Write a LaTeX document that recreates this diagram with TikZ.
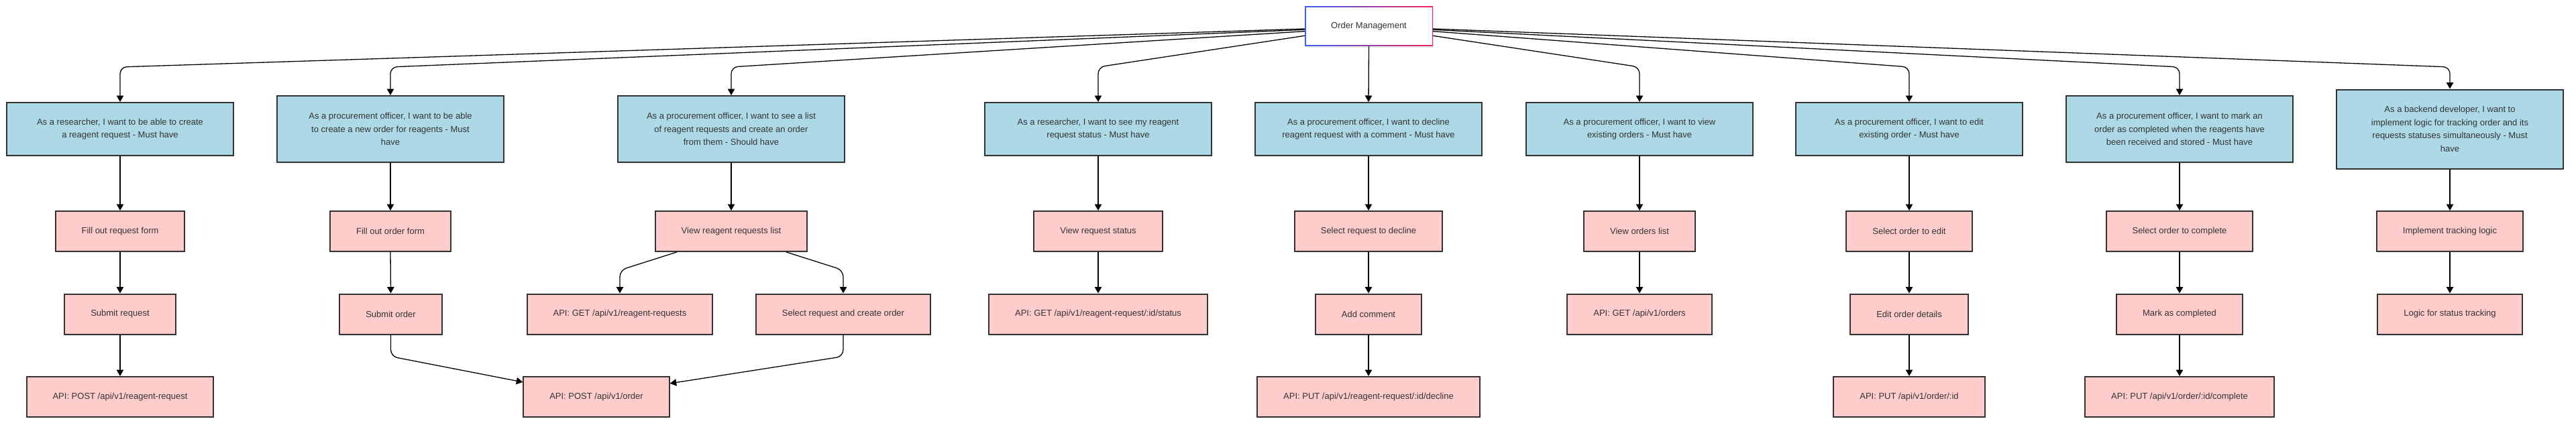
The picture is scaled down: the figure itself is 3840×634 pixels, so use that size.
\documentclass[tikz,border=0pt]{standalone}
\usepackage{fontspec}
\setmainfont{Liberation Sans}
\usetikzlibrary{arrows.meta,shadows}
\definecolor{txt}{HTML}{333333}
\definecolor{bluefill}{HTML}{ADD8E6}
\definecolor{pinkfill}{HTML}{FFCCCC}
\definecolor{bord}{HTML}{333333}
\definecolor{gradL}{HTML}{3F5EF5}
\definecolor{gradR}{HTML}{F0245A}
\begin{document}
\begin{tikzpicture}[x=1pt,y=-1pt,
  every node/.style={font=\fontsize{13pt}{19.5pt}\selectfont, text=txt},
  boxshadow/.style={drop shadow={shadow xshift=0.5pt, shadow yshift=-2pt, opacity=0.18}},
  story/.style={draw=bord, line width=2pt, fill=bluefill, minimum width=338pt, align=center, inner sep=0pt, boxshadow},
  hh2/.style={minimum height=79pt},
  hh3/.style={minimum height=99pt},
  hh4/.style={minimum height=118pt},
  task/.style={draw=bord, line width=2pt, fill=pinkfill, minimum height=60pt, inner xsep=39pt, inner ysep=0pt, boxshadow},
  arr/.style={draw=black, line width=1.3pt, -{Triangle[length=9.5pt,width=10.5pt]}, rounded corners=10pt},
]
\useasboundingbox (0,0) rectangle (3840,634);
\coordinate (bendrow) at (0,100);
\coordinate (forky) at (0,403);
\coordinate (mergey) at (0,531.7);

% top node
\node[left color=gradL, right color=gradR, minimum width=191pt, minimum height=59pt, inner sep=0pt, boxshadow] (topframe) at (2040.5,39.5) {};
\node[fill=white, minimum width=188pt, minimum height=56pt, inner sep=0pt] (top) at (topframe.center) {Order Management};

% stories
\node[story,hh2] (s1) at (179,192.5) {As a researcher, I want to be able to create\\a reagent request - Must have};
\node[story,hh3] (s2) at (582,192.5) {As a procurement officer, I want to be able\\to create a new order for reagents - Must\\have};
\node[story,hh3] (s3) at (1090,192.5) {As a procurement officer, I want to see a list\\of reagent requests and create an order\\from them - Should have};
\node[story,hh2] (s4) at (1637,192.5) {As a researcher, I want to see my reagent\\request status - Must have};
\node[story,hh2] (s5) at (2040,192.5) {As a procurement officer, I want to decline\\reagent request with a comment - Must have};
\node[story,hh2] (s6) at (2444,192.5) {As a procurement officer, I want to view\\existing orders - Must have};
\node[story,hh2] (s7) at (2846,192.5) {As a procurement officer, I want to edit\\existing order - Must have};
\node[story,hh3] (s8) at (3249,192.5) {As a procurement officer, I want to mark an\\order as completed when the reagents have\\been received and stored - Must have};
\node[story,hh4] (s9) at (3652,192.5) {As a backend developer, I want to\\implement logic for tracking order and its\\requests statuses simultaneously - Must\\have};

% tasks
\node[task] (t1a) at (179,345) {Fill out request form};
\node[task] (t1b) at (179,468.5) {Submit request};
\node[task] (t1c) at (179,592) {API: POST /api/v1/reagent-request};

\node[task] (t2a) at (582,345) {Fill out order form};
\node[task] (t2b) at (582.5,468.5) {Submit order};
\node[task] (api2) at (889,592) {API: POST /api/v1/order};

\node[task] (t3a) at (1090,345) {View reagent requests list};
\node[task] (t3b) at (924,468.5) {API: GET /api/v1/reagent-requests};
\node[task] (t3c) at (1257,468.5) {Select request and create order};

\node[task] (t4a) at (1637,345) {View request status};
\node[task] (t4b) at (1637,468.5) {API: GET /api/v1/reagent-request/:id/status};

\node[task] (t5a) at (2040,345) {Select request to decline};
\node[task] (t5b) at (2040,468.5) {Add comment};
\node[task] (t5c) at (2040,592) {API: PUT /api/v1/reagent-request/:id/decline};

\node[task] (t6a) at (2444,345) {View orders list};
\node[task] (t6b) at (2444,468.5) {API: GET /api/v1/orders};

\node[task] (t7a) at (2846,345) {Select order to edit};
\node[task] (t7b) at (2846,468.5) {Edit order details};
\node[task] (t7c) at (2846,592) {API: PUT /api/v1/order/:id};

\node[task] (t8a) at (3249,345) {Select order to complete};
\node[task] (t8b) at (3249,468.5) {Mark as completed};
\node[task] (t8c) at (3249,592) {API: PUT /api/v1/order/:id/complete};

\node[task] (t9a) at (3652,345) {Implement tracking logic};
\node[task] (t9b) at (3652,468.5) {Logic for status tracking};

% top-level edges
\draw[arr] ([yshift=-3.5pt]topframe.west) -- (s1.north |- bendrow) -- (s1.north);
\draw[arr] ([yshift=-4.8pt]topframe.west) -- (s2.north |- bendrow) -- (s2.north);
\draw[arr] ([yshift=-7.2pt]topframe.west) -- (s3.north |- bendrow) -- (s3.north);
\draw[arr] ([yshift=-13.8pt]topframe.west) -- (s4.north |- bendrow) -- (s4.north);
\draw[arr] (topframe.south) -- (s5.north);
\draw[arr] ([yshift=-13.8pt]topframe.east) -- (s6.north |- bendrow) -- (s6.north);
\draw[arr] ([yshift=-7.2pt]topframe.east) -- (s7.north |- bendrow) -- (s7.north);
\draw[arr] ([yshift=-4.8pt]topframe.east) -- (s8.north |- bendrow) -- (s8.north);
\draw[arr] ([yshift=-3.5pt]topframe.east) -- (s9.north |- bendrow) -- (s9.north);

% column edges
\draw[arr] (s1.south) -- (t1a.north);
\draw[arr] (t1a.south) -- (t1b.north);
\draw[arr] (t1b.south) -- (t1c.north);

\draw[arr] (s2.south) -- (t2a.north);
\draw[arr] (t2a.south) -- (t2b.north);
\draw[arr] (t2b.south) -- (t2b.south |- mergey) -- ([yshift=22pt]api2.west);

\draw[arr] (s3.south) -- (t3a.north);
\draw[arr] ([xshift=-81pt]t3a.south) -- (t3b.north |- forky) -- (t3b.north);
\draw[arr] ([xshift=82pt]t3a.south) -- (t3c.north |- forky) -- (t3c.north);
\draw[arr] (t3c.south) -- (t3c.south |- mergey) -- ([yshift=20pt]api2.east);

\draw[arr] (s4.south) -- (t4a.north);
\draw[arr] (t4a.south) -- (t4b.north);

\draw[arr] (s5.south) -- (t5a.north);
\draw[arr] (t5a.south) -- (t5b.north);
\draw[arr] (t5b.south) -- (t5c.north);

\draw[arr] (s6.south) -- (t6a.north);
\draw[arr] (t6a.south) -- (t6b.north);

\draw[arr] (s7.south) -- (t7a.north);
\draw[arr] (t7a.south) -- (t7b.north);
\draw[arr] (t7b.south) -- (t7c.north);

\draw[arr] (s8.south) -- (t8a.north);
\draw[arr] (t8a.south) -- (t8b.north);
\draw[arr] (t8b.south) -- (t8c.north);

\draw[arr] (s9.south) -- (t9a.north);
\draw[arr] (t9a.south) -- (t9b.north);
\end{tikzpicture}
\end{document}
